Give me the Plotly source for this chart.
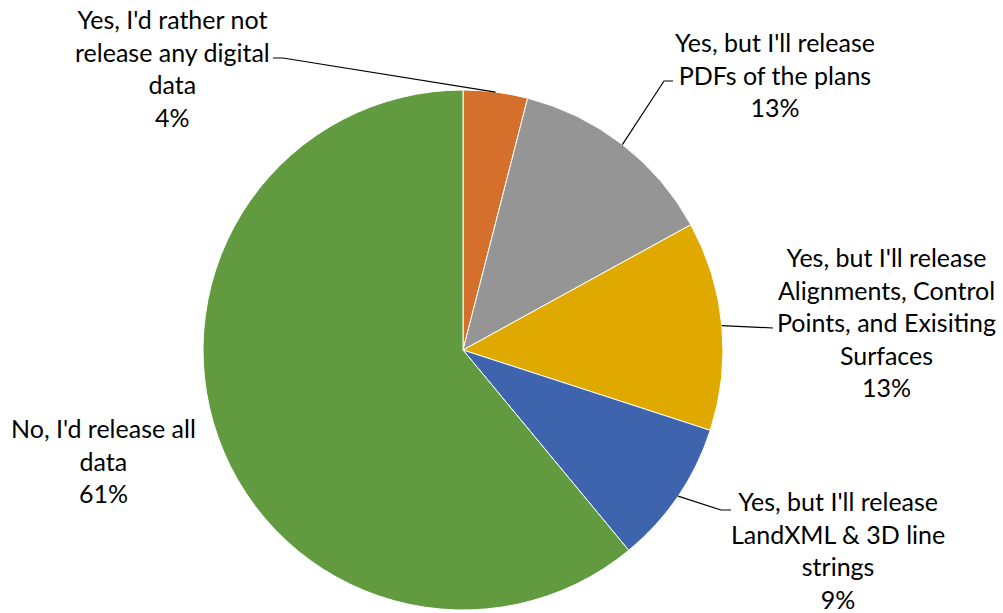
import math
import plotly.graph_objects as go

# Survey answers, in clockwise order from 12 o'clock
labels = [
    "Yes, I'd rather not release any digital data",
    "Yes, but I'll release PDFs of the plans",
    "Yes, but I'll release Alignments, Control Points, and Exisiting Surfaces",
    "Yes, but I'll release LandXML & 3D line strings",
    "No, I'd release all data",
]
shares = [4, 13, 13, 9, 61]
colors = ["#D5702C", "#959595", "#E0A900", "#3E64AE", "#629B3F"]

# Wrapped label text as drawn beside each slice
label_lines = [
    ["Yes, I'd rather not", "release any digital", "data"],
    ["Yes, but I'll release", "PDFs of the plans"],
    ["Yes, but I'll release", "Alignments, Control", "Points, and Exisiting", "Surfaces"],
    ["Yes, but I'll release", "LandXML & 3D line", "strings"],
    ["No, I'd release all", "data"],
]

W, H = 1003, 613
CX, CY, R = 463, 350, 260          # pie centre and radius in pixels

# Label block placement (pixel centre x, vertical middle y)
label_pos = [(172, 68), (775, 75), (886, 322), (838, 550), (103, 460)]
# Leader-line start (next to the label) and elbow point, None = no leader
leader_start = [(273, 58), (673, 81), (773, 328), (731, 510), None]
leader_elbow = [(283, 58), (664, 81), (773, 328), (721, 510), None]

FONT = "Lato"
FSIZE = 25


def px(x):
    return x / W


def py(y):
    return 1 - y / H


fig = go.Figure(
    go.Pie(
        labels=labels,
        values=shares,
        sort=False,
        direction="clockwise",
        rotation=0,
        marker=dict(colors=colors, line=dict(color="#FFFFFF", width=1)),
        textinfo="none",
        hoverinfo="label+percent",
        showlegend=False,
        domain=dict(x=[px(CX - R), px(CX + R)], y=[py(CY + R), py(CY - R)]),
    )
)

total = sum(shares)
annotations = []
shapes = []
cum = 0
for i, v in enumerate(shares):
    mid = (cum + v / 2) / total * 2 * math.pi
    cum += v
    ax = CX + R * math.sin(mid)
    ay = CY - R * math.cos(mid)
    text = "<br>".join(label_lines[i] + [f"{v}%"])
    lx, ly = label_pos[i]
    annotations.append(
        dict(
            x=px(lx), y=py(ly), xref="paper", yref="paper",
            text=text, showarrow=False, align="center",
            xanchor="center", yanchor="middle",
            font=dict(family=FONT, size=FSIZE, color="#000000"),
        )
    )
    if leader_start[i] is not None:
        sx, sy = leader_start[i]
        ex, ey = leader_elbow[i]
        path = f"M {px(sx)} {py(sy)} L {px(ex)} {py(ey)} L {px(ax)} {py(ay)}"
        shapes.append(
            dict(type="path", xref="paper", yref="paper", path=path,
                 line=dict(color="#000000", width=1.2))
        )

fig.update_layout(
    width=W, height=H,
    margin=dict(l=0, r=0, t=0, b=0),
    paper_bgcolor="#FFFFFF",
    plot_bgcolor="#FFFFFF",
    annotations=annotations,
    shapes=shapes,
)

fig.write_html("out.html")
